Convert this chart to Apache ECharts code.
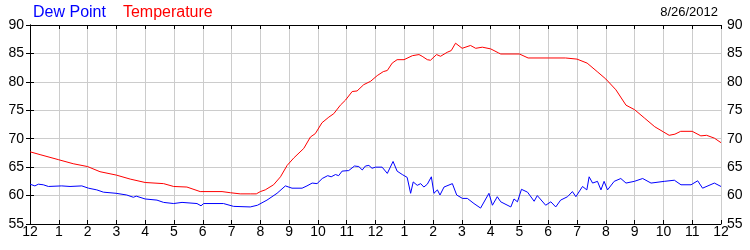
<!DOCTYPE html>
<html>
<head>
<meta charset="utf-8">
<script src="https://cdn.jsdelivr.net/npm/echarts@6/dist/echarts.min.js"></script>
<style>
html,body{margin:0;padding:0;background:#fff;}
#chart{width:750px;height:250px;}
</style>
</head>
<body>
<div id="chart"></div>
<script>
const hourLabels = ['12','1','2','3','4','5','6','7','8','9','10','11','12','1','2','3','4','5','6','7','8','9','10','11','12'];
const yTicks = [55, 60, 65, 70, 75, 80, 85, 90];
const dateLabel = '8/26/2012';

const dewHours = [0,0.17,0.29,0.46,0.64,1.1,1.39,1.8,2.03,2.32,2.55,2.99,3.36,3.59,3.69,4.0,4.41,4.64,4.99,5.28,5.8,5.94,6.03,6.72,7.07,7.65,7.9,8.23,8.58,8.87,9.1,9.45,9.62,9.8,9.97,10.15,10.34,10.46,10.61,10.72,10.84,11.07,11.27,11.42,11.54,11.65,11.77,11.88,12.0,12.23,12.41,12.61,12.75,12.93,13.1,13.22,13.31,13.45,13.57,13.68,13.8,13.94,14.03,14.15,14.24,14.38,14.67,14.82,15.02,15.19,15.42,15.65,15.94,16.06,16.23,16.35,16.7,16.81,16.93,17.07,17.28,17.51,17.62,17.91,18.09,18.26,18.43,18.67,18.84,18.96,19.19,19.34,19.42,19.54,19.71,19.83,19.94,20.06,20.29,20.52,20.7,20.99,21.28,21.57,22.03,22.38,22.61,22.96,23.19,23.36,23.77,24.0];
const dewValues = [62.0,61.7,62.0,61.9,61.6,61.7,61.6,61.7,61.3,61.0,60.6,60.4,60.1,59.7,59.9,59.4,59.2,58.8,58.6,58.8,58.6,58.2,58.6,58.6,58.1,58.0,58.3,59.2,60.4,61.7,61.3,61.3,61.7,62.2,62.1,63.0,63.5,63.3,63.7,63.5,64.3,64.4,65.2,65.1,64.5,65.2,65.3,64.8,65.0,65.0,63.9,66.0,64.3,63.7,63.2,60.4,62.4,61.8,62.1,61.5,62.0,63.3,60.4,61.0,60.1,61.5,62.1,60.1,59.5,59.5,58.6,57.8,60.4,58.3,59.8,58.9,58.0,59.4,58.9,61.1,60.6,59.0,60.0,58.3,58.9,58.0,59.2,59.8,60.7,59.8,61.6,61.0,63.3,62.2,62.5,61.0,62.5,61.0,62.5,63.0,62.2,62.5,63.0,62.2,62.5,62.7,61.9,61.9,62.6,61.3,62.2,61.6];

const tempHours = [0,0.35,1.0,1.5,2.0,2.43,3.0,3.48,4.0,4.64,4.99,5.45,5.91,6.67,6.96,7.3,7.65,7.86,8.0,8.17,8.46,8.7,8.93,9.16,9.51,9.74,9.91,10.14,10.38,10.55,10.78,10.96,11.19,11.36,11.59,11.83,12.06,12.27,12.41,12.58,12.75,12.99,13.28,13.51,13.62,13.8,13.91,14.12,14.26,14.49,14.63,14.78,15.01,15.3,15.48,15.71,16.0,16.27,16.35,17.0,17.3,18.0,18.6,19.0,19.35,19.7,20.0,20.35,20.7,21.0,21.35,21.7,22.0,22.2,22.4,22.6,23.0,23.3,23.5,23.77,24.0];
const tempValues = [67.7,67.2,66.3,65.6,65.1,64.2,63.6,62.9,62.3,62.1,61.6,61.5,60.7,60.7,60.5,60.3,60.3,60.3,60.7,61.0,61.9,63.3,65.3,66.6,68.3,70.3,70.9,72.8,73.8,74.4,75.9,76.8,78.3,78.4,79.5,80.1,81.1,81.8,82.0,83.3,83.9,83.9,84.6,84.8,84.5,83.9,83.8,84.8,84.5,85.2,85.5,86.8,85.9,86.4,85.9,86.1,85.8,85.1,84.9,84.9,84.2,84.2,84.2,84.0,83.3,81.8,80.5,78.6,75.9,75.1,73.6,72.1,71.2,70.6,70.8,71.3,71.3,70.5,70.6,70.1,69.3];

const FONT = 'Liberation Sans, Arial, sans-serif';
const chart = echarts.init(document.getElementById('chart'), null, {renderer: 'canvas'});

const xBase = {
  type: 'value', min: 0, max: hourLabels.length - 1, interval: 1,
  axisLine: {show: true, onZero: false, lineStyle: {color: '#000', width: 1}},
  axisTick: {show: true, inside: true, length: 4, lineStyle: {color: '#000'}},
  splitLine: {show: true, lineStyle: {color: '#cccccc', width: 1}}
};
const yBase = {
  type: 'value', min: yTicks[0], max: yTicks[yTicks.length - 1], interval: yTicks[1] - yTicks[0],
  axisLine: {show: true, lineStyle: {color: '#000', width: 1}},
  axisTick: {show: true, inside: false, length: 4, lineStyle: {color: '#000'}},
  splitLine: {show: true, lineStyle: {color: '#cccccc', width: 1}},
  axisLabel: {fontSize: 14, color: '#000', fontFamily: FONT, margin: 6}
};

chart.setOption({
  animation: false,
  backgroundColor: '#fff',
  textStyle: {fontFamily: FONT},
  title: {
    text: dateLabel, right: 32, top: 6, padding: 0,
    textStyle: {fontSize: 13, fontWeight: 'normal', color: '#000', fontFamily: FONT}
  },
  legend: {
    left: 28, top: 5, padding: 0, itemWidth: 0, itemHeight: 14, itemGap: 12,
    selectedMode: false,
    textStyle: {fontSize: 16, fontFamily: FONT},
    data: [
      {name: 'Dew Point', icon: 'none', textStyle: {color: '#0000ff'}},
      {name: 'Temperature', icon: 'none', textStyle: {color: '#ff0000'}}
    ]
  },
  grid: {left: 30, right: 29, top: 25, bottom: 26, containLabel: false},
  xAxis: [
    Object.assign({}, xBase, {
      position: 'bottom',
      axisLabel: {fontSize: 14, color: '#000', fontFamily: FONT, margin: 1,
        formatter: v => hourLabels[Math.round(v)]}
    }),
    Object.assign({}, xBase, {position: 'top', axisLabel: {show: false}, splitLine: {show: false}})
  ],
  yAxis: [
    Object.assign({}, yBase, {position: 'left'}),
    Object.assign({}, yBase, {position: 'right', splitLine: {show: false}})
  ],
  series: [
    {
      name: 'Dew Point', type: 'line', xAxisIndex: 0, yAxisIndex: 0,
      data: dewHours.map((h, i) => [h, dewValues[i]]),
      showSymbol: false, symbol: 'none', smooth: false,
      lineStyle: {color: '#0000ff', width: 1}, itemStyle: {color: '#0000ff'}, z: 3
    },
    {
      name: 'Temperature', type: 'line', xAxisIndex: 0, yAxisIndex: 0,
      data: tempHours.map((h, i) => [h, tempValues[i]]),
      showSymbol: false, symbol: 'none', smooth: false,
      lineStyle: {color: '#ff0000', width: 1}, itemStyle: {color: '#ff0000'}, z: 2
    }
  ]
});
</script>
</body>
</html>
